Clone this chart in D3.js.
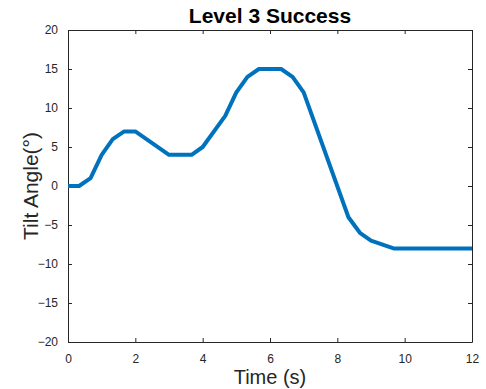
<!DOCTYPE html>
<html>
<head>
<meta charset="utf-8">
<script src="https://cdnjs.cloudflare.com/ajax/libs/d3/7.8.5/d3.min.js"></script>
<style>
  body { margin: 0; background: #fff; }
  svg { font-family: "Liberation Sans", Arial, sans-serif; }
  .tick text { fill: #262626; font-size: 12px; }
  .tick line, .domain { stroke: #262626; }
</style>
</head>
<body>
<div id="chart"></div>
<script>
// data
var times = [0, 0.33, 0.67, 1, 1.33, 1.67, 2, 3, 3.67, 4, 4.67, 5, 5.33, 5.67, 6.33, 6.67, 7, 8.33, 8.67, 9, 9.67, 12];
var angles = [0, 0, 1, 4, 6, 7, 7, 4, 4, 5, 9, 12, 14, 15, 15, 14, 12, -4, -6, -7, -8, -8];
var xTicks = [0, 2, 4, 6, 8, 10, 12];
var yTicks = [-20, -15, -10, -5, 0, 5, 10, 15, 20];

var width = 486, height = 389;
var margin = {top: 30, right: 14, bottom: 47, left: 68};

var svg = d3.select('#chart').append('svg')
  .attr('width', width)
  .attr('height', height);

var x = d3.scaleLinear().domain([0, 12]).range([margin.left, width - margin.right]);
var y = d3.scaleLinear().domain([-20, 20]).range([height - margin.bottom, margin.top]);

// axes, ticks point inward like matlab
var tl = -4;
svg.append('g')
  .attr('transform', 'translate(0,' + (height - margin.bottom) + ')')
  .call(d3.axisBottom(x).tickValues(xTicks).tickSize(tl).tickPadding(12).tickSizeOuter(0));
svg.append('g')
  .attr('transform', 'translate(0,' + margin.top + ')')
  .call(d3.axisTop(x).tickValues(xTicks).tickSize(tl).tickFormat('').tickSizeOuter(0));
svg.append('g')
  .attr('transform', 'translate(' + margin.left + ',0)')
  .call(d3.axisLeft(y).tickValues(yTicks).tickSize(tl).tickPadding(10).tickSizeOuter(0));
svg.append('g')
  .attr('transform', 'translate(' + (width - margin.right) + ',0)')
  .call(d3.axisRight(y).tickValues(yTicks).tickSize(tl).tickFormat('').tickSizeOuter(0));

// the line
var pts = times.map(function(t, i) { return [t, angles[i]]; });
svg.append('path')
  .datum(pts)
  .attr('fill', 'none')
  .attr('stroke', '#0072BD')
  .attr('stroke-width', 4)
  .attr('stroke-linejoin', 'round')
  .attr('d', d3.line().x(function(d) { return x(d[0]); }).y(function(d) { return y(d[1]); }));

// labels
var cx = (x.range()[0] + x.range()[1]) / 2;
svg.append('text')
  .attr('x', cx).attr('y', 23)
  .attr('text-anchor', 'middle')
  .style('font-size', '21px').style('font-weight', 'bold').style('fill', '#000')
  .text('Level 3 Success');
svg.append('text')
  .attr('x', cx).attr('y', 384)
  .attr('text-anchor', 'middle')
  .style('font-size', '20px').style('fill', '#262626')
  .text('Time (s)');
svg.append('text')
  .attr('transform', 'translate(38,' + y(0) + ') rotate(-90)')
  .attr('text-anchor', 'middle')
  .style('font-size', '21px').style('fill', '#262626')
  .text('Tilt Angle(°)');
</script>
</body>
</html>
